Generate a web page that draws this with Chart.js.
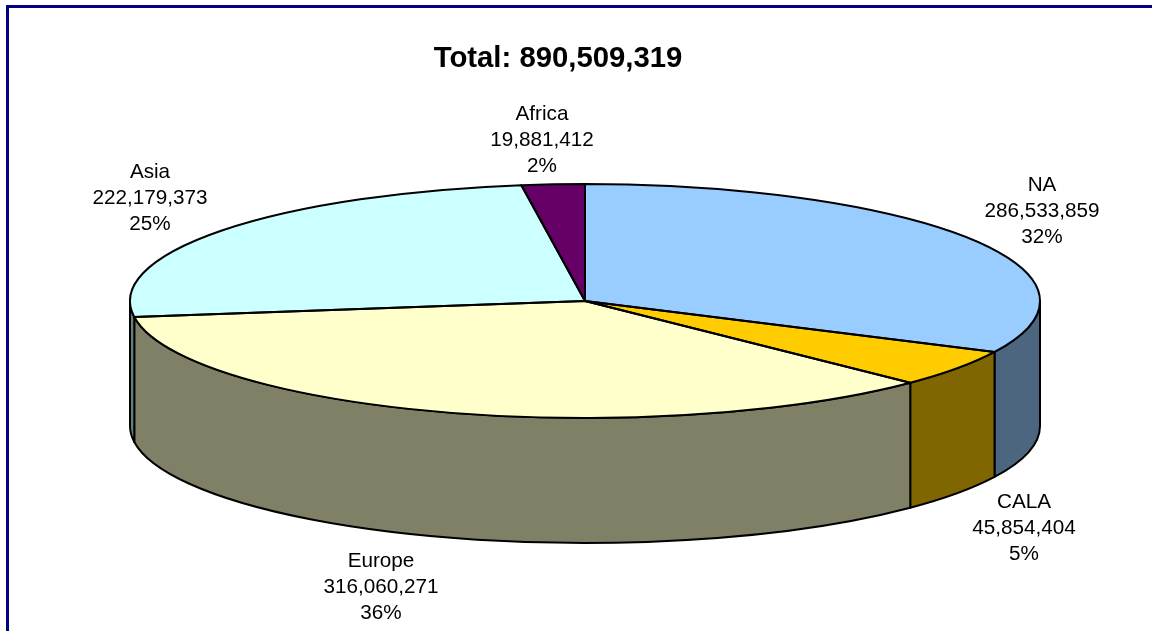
<!DOCTYPE html>
<html>
<head>
<meta charset="utf-8">
<title>Total: 890,509,319</title>
<style>
  html, body { margin: 0; padding: 0; background: #fff; overflow: hidden; }
  #wrap { position: absolute; left: 0; top: 0; width: 1152px; height: 631px; overflow: hidden; }
  #frame { position: absolute; left: 6px; top: 5px; width: 1200px; height: 700px; border: 3px solid #000080; box-sizing: content-box; }
  #chart { position: absolute; left: 0; top: 0; }
</style>
<script src="https://cdn.jsdelivr.net/npm/chart.js@4"></script>
</head>
<body>
<div id="wrap">
  <div id="frame"></div>
  <canvas id="chart" width="1152" height="631"></canvas>
</div>
<script>
"use strict";

// ---------- Data ----------

const categories = ["NA", "CALA", "Europe", "Asia", "Africa"];
const seriesValues = [286533859, 45854404, 316060271, 222179373, 19881412];
const percentLabels = ["32%", "5%", "36%", "25%", "2%"];
const titleText = "Total: 890,509,319";

const topColors = ["#99CCFF", "#FFCC00", "#FFFFCC", "#CCFFFF", "#660066"];
const wallColors = ["#4D6680", "#806600", "#808066", "#668080", "#330033"];

// ---------- Layout of the tilted pie ----------

const PIE = { cx: 585, cy: 301, rx: 455, ry: 117, depth: 125 };

const LABEL_CENTERS = [
    [1042, 185],
    [1024, 502],
    [381, 561],
    [150, 172],
    [542, 114],
];

const FONT = '"Liberation Sans", Arial, sans-serif';
const OUTLINE_WIDTH = 2;

function ellipsePath(ctx, y, start, end, ccw) {
    ctx.ellipse(PIE.cx, y, PIE.rx, PIE.ry, 0, start, end, ccw);
}

// ---------- Plugin: squashes the library's pie into an ellipse, adds wall and labels ----------

const tiltPlugin = {
    id: "tilt",
    beforeDatasetsDraw(chart) {
        const ctx = chart.ctx;
        const arcs = chart.getDatasetMeta(0).data;
        const bottom = PIE.cy + PIE.depth;

        // wall: only the part of each slice facing the viewer (angles 0..PI)
        ctx.save();
        ctx.lineWidth = OUTLINE_WIDTH;
        ctx.strokeStyle = "#000";
        ctx.lineJoin = "round";
        arcs.forEach((arc, i) => {
            const start = Math.max(arc.startAngle, 0);
            const end = Math.min(arc.endAngle, Math.PI);
            if (end <= start) return;
            ctx.beginPath();
            ellipsePath(ctx, PIE.cy, start, end, false);
            ellipsePath(ctx, bottom, end, start, true);
            ctx.closePath();
            ctx.fillStyle = wallColors[i];
            ctx.fill();
            ctx.stroke();
        });
        ctx.restore();

        const first = arcs[0];
        ctx.save();
        ctx.translate(PIE.cx, PIE.cy);
        ctx.scale(PIE.rx / first.outerRadius, PIE.ry / first.outerRadius);
        ctx.translate(-first.x, -first.y);
    },
    afterDatasetsDraw(chart) {
        const ctx = chart.ctx;
        ctx.restore();

        // outlines stroked without the squash so the line keeps an even width
        const arcs = chart.getDatasetMeta(0).data;
        ctx.save();
        ctx.lineWidth = OUTLINE_WIDTH;
        ctx.strokeStyle = "#000";
        ctx.lineJoin = "round";
        arcs.forEach((arc) => {
            ctx.beginPath();
            ctx.moveTo(PIE.cx, PIE.cy);
            ellipsePath(ctx, PIE.cy, arc.startAngle, arc.endAngle, false);
            ctx.closePath();
            ctx.stroke();
        });
        ctx.restore();

        // labels
        ctx.save();
        ctx.font = "20.7px " + FONT;
        ctx.fillStyle = "#000";
        ctx.textAlign = "center";
        ctx.textBaseline = "middle";
        categories.forEach((name, i) => {
            const [x, y] = LABEL_CENTERS[i];
            ctx.fillText(name, x, y);
            ctx.fillText(seriesValues[i].toLocaleString("en-US"), x, y + 26);
            ctx.fillText(percentLabels[i], x, y + 52);
        });
        ctx.restore();
    },
};

// ---------- Chart ----------

new Chart(document.getElementById("chart"), {
    type: "pie",
    plugins: [tiltPlugin],
    data: {
        labels: categories,
        datasets: [
            {
                data: seriesValues,
                backgroundColor: topColors,
                borderWidth: 0,
            },
        ],
    },
    options: {
        responsive: false,
        animation: false,
        layout: { padding: { right: 36 } },
        plugins: {
            legend: { display: false },
            tooltip: { enabled: false },
            title: {
                display: true,
                text: titleText,
                color: "#000",
                font: { family: FONT, size: 29.3, weight: "bold" },
                padding: { top: 41, bottom: 10 },
            },
        },
    },
});
</script>
</body>
</html>
